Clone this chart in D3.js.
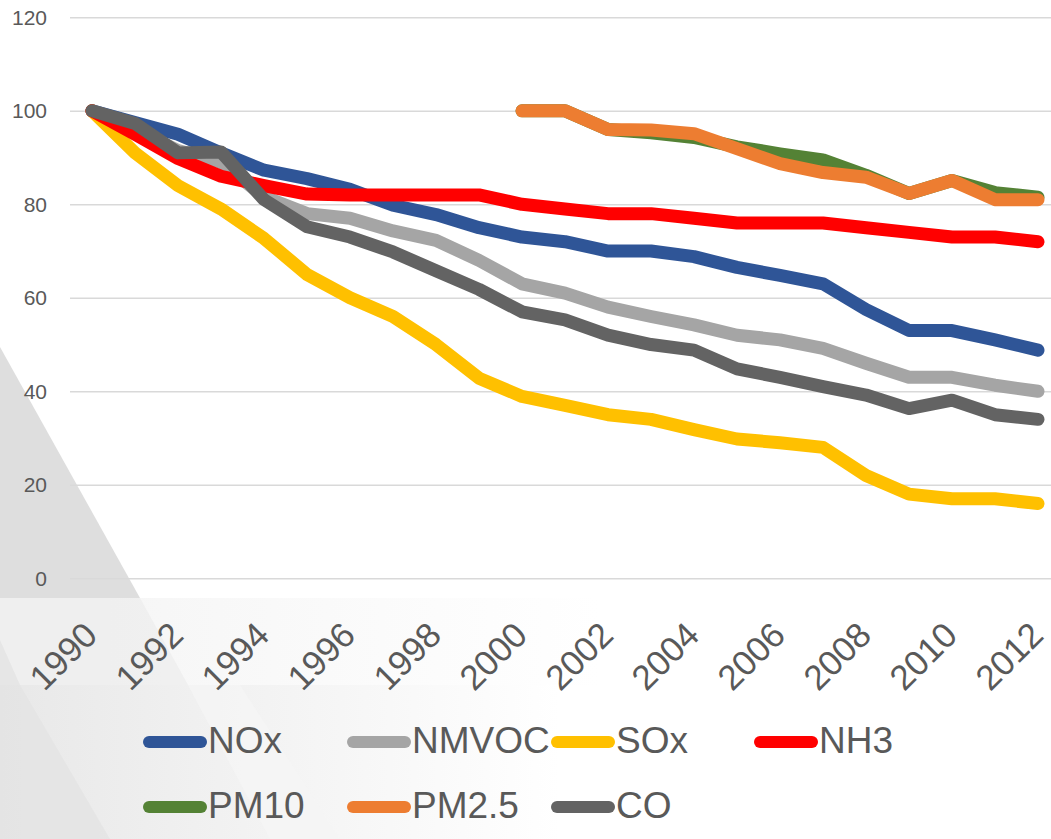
<!DOCTYPE html>
<html>
<head>
<meta charset="utf-8">
<script src="https://cdn.jsdelivr.net/npm/d3@7"></script>
<style>
  body { margin: 0; background: #ffffff; }
  svg { display: block; }
  .lbl { font-family: "Liberation Sans", Arial, sans-serif; fill: #595959; }
</style>
</head>
<body>
<div id="chart"></div>
<script>
//Data (index, 1990 = 100)
const years = d3.range(1990, 2013)
const yTicks = [0, 20, 40, 60, 80, 100, 120]
const xTickYears = [1990, 1992, 1994, 1996, 1998, 2000, 2002, 2004, 2006, 2008, 2010, 2012]

const seriesNames = ["NOx", "NMVOC", "SOx", "NH3", "PM10", "PM2.5", "CO"]
const seriesColors = ["#2f5597", "#a5a5a5", "#ffc000", "#ff0000", "#548235", "#ed7d31", "#636363"]

const nox   = [100, 97.5, 95, 91, 87.3, 85.5, 83.2, 79.8, 77.8, 75, 73, 72, 70, 70, 68.8, 66.5, 64.8, 63, 57.5, 53, 53, 51, 48.8]
const nmvoc = [100, 96, 91.5, 89, 81.6, 78, 77, 74.3, 72.3, 68, 63, 61, 58, 56, 54.2, 52, 51, 49.2, 46, 43, 43, 41.3, 40]
const sox   = [100, 91, 84, 79, 72.7, 65, 60, 56, 50, 42.8, 38.9, 37, 35, 34, 31.8, 29.8, 29, 28, 22, 18, 17, 17, 16]
const nh3   = [100, 95, 89.8, 86, 84, 82.2, 82, 82, 82, 82, 80, 79, 78, 78, 77, 76, 76, 76, 75, 74, 73, 73, 72]
const pm10  = [null, null, null, null, null, null, null, null, null, null,
               100, 100, 96, 95.3, 94.3, 92.3, 90.8, 89.5, 86.2, 82.3, 85.1, 82.5, 81.5]
const pm25  = [null, null, null, null, null, null, null, null, null, null,
               100, 100, 96, 95.9, 95.1, 91.9, 88.7, 86.8, 85.8, 82.3, 85.1, 81, 81]
const co    = [100, 97.3, 91, 91.2, 81, 75.2, 73, 69.8, 65.8, 61.8, 57, 55.3, 52, 50, 48.8, 44.8, 43, 41, 39.2, 36.3, 38.1, 35, 34]

const seriesValues = [nox, nmvoc, sox, nh3, pm10, pm25, co]

const width = 1051
const height = 839

const svg = d3.select("#chart")
  .append("svg")
  .attr("width", width)
  .attr("height", height)

//Slide background: grey diagonal shapes on the left
const defs = svg.append("defs")
const fadeH = defs.append("linearGradient").attr("id", "fadeH")
  .attr("x1", "0").attr("x2", "1").attr("y1", "0").attr("y2", "0")
fadeH.append("stop").attr("offset", "0").attr("stop-color", "#e8e8e8")
fadeH.append("stop").attr("offset", "1").attr("stop-color", "#ffffff")
const fadeBand = defs.append("linearGradient").attr("id", "fadeBand")
  .attr("x1", "0").attr("x2", "1").attr("y1", "0").attr("y2", "0")
fadeBand.append("stop").attr("offset", "0").attr("stop-color", "#f4f4f4")
fadeBand.append("stop").attr("offset", "1").attr("stop-color", "#ffffff")

const bg = svg.append("g").attr("class", "background")
bg.append("rect").attr("x", 0).attr("y", 598).attr("width", 600).attr("height", 87).attr("fill", "url(#fadeBand)")
bg.append("rect").attr("x", 0).attr("y", 685).attr("width", 560).attr("height", 154).attr("fill", "url(#fadeH)")
bg.append("polygon").attr("points", "0,347 140,598 0,598").attr("fill", "#dedede")
bg.append("polygon").attr("points", "140,598 188,685 0,685 0,598").attr("fill", "#eeeeee").attr("opacity", 0.8)
bg.append("polygon").attr("points", "0,640 20,685 0,685").attr("fill", "#e6e6e6")
bg.append("polygon").attr("points", "20,685 110,839 0,839 0,685").attr("fill", "#e3e3e3").attr("opacity", 0.7)
bg.append("polygon").attr("points", "188,685 270,839 340,839 240,685").attr("fill", "#f5f5f5").attr("opacity", 0.8)

//Scales
const x = d3.scaleLinear().domain([1990, 2012]).range([92, 1038])
const y = d3.scaleLinear().domain([0, 120]).range([578.3, 17.3])

//Grid lines
const grid = svg.append("g")
  .attr("class", "grid")
  .attr("transform", "translate(70,0)")
  .call(d3.axisLeft(y).tickValues(yTicks).tickSize(-(width - 70)).tickFormat(""))
grid.select(".domain").remove()
grid.selectAll("line").attr("stroke", "#d9d9d9").attr("stroke-width", 1.6)

//Y axis labels
svg.append("g")
  .selectAll("text")
  .data(yTicks)
  .enter()
  .append("text")
  .attr("class", "lbl")
  .attr("x", 47)
  .attr("y", d => y(d))
  .attr("dy", "0.35em")
  .attr("text-anchor", "end")
  .style("font-size", "21px")
  .text(d => d)

//X axis labels, rotated
svg.append("g")
  .selectAll("text")
  .data(xTickYears)
  .enter()
  .append("text")
  .attr("class", "lbl")
  .attr("transform", d => "translate(" + (x(d) - 29) + ",656) rotate(-45)")
  .attr("text-anchor", "middle")
  .attr("dy", "0.35em")
  .style("font-size", "35px")
  .text(d => d)

//Lines
const line = d3.line()
  .defined(d => d.v !== null)
  .x(d => x(d.year))
  .y(d => y(d.v))

seriesNames.forEach(function(name, i) {
  const data = years.map((yr, j) => ({year: yr, v: seriesValues[i][j]}))
  svg.append("path")
    .datum(data)
    .attr("fill", "none")
    .attr("stroke", seriesColors[i])
    .attr("stroke-width", 13)
    .attr("stroke-linecap", "round")
    .attr("stroke-linejoin", "round")
    .attr("d", line)
})

//Legend
const legendCols = [143, 347, 551, 754]
const legendRows = [742, 807]
const legend = svg.append("g").attr("class", "legend")
seriesNames.forEach(function(name, i) {
  const lx = legendCols[i % 4]
  const ly = legendRows[Math.floor(i / 4)]
  legend.append("line")
    .attr("x1", lx + 6).attr("x2", lx + 58)
    .attr("y1", ly).attr("y2", ly)
    .attr("stroke", seriesColors[i])
    .attr("stroke-width", 12)
    .attr("stroke-linecap", "round")
  legend.append("text")
    .attr("class", "lbl")
    .attr("x", lx + 65)
    .attr("y", ly + 11)
    .style("font-size", "37px")
    .text(name)
})
</script>
</body>
</html>
